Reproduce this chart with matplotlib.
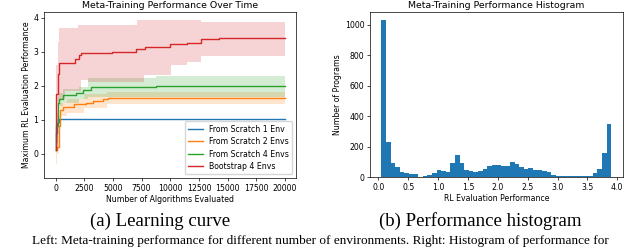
import matplotlib
matplotlib.use("Agg")
import matplotlib.pyplot as plt
import numpy as np

# ---- learning curve data (steps) ----
labels = ["From Scratch 1 Env", "From Scratch 2 Envs", "From Scratch 4 Envs", "Bootstrap 4 Envs"]
colors = ["tab:blue", "tab:orange", "tab:green", "tab:red"]

blue_x = [0, 30, 100, 200, 320, 20000]
blue_y = [0.12, 0.6, 0.9, 0.94, 1.01, 1.01]
orange_x = [0, 90, 260, 380, 610, 1620, 2640, 3220, 4090, 4530, 20000]
orange_y = [0.1, 0.2, 0.8, 1.28, 1.38, 1.45, 1.5, 1.56, 1.6, 1.64, 1.64]
green_x = [0, 60, 180, 300, 610, 1770, 2350, 3080, 8760, 20000]
green_y = [0.1, 0.8, 1.48, 1.6, 1.72, 1.8, 1.87, 1.97, 2.0, 2.0]
red_x = [0, 30, 180, 320, 1650, 2000, 2240, 4900, 7000, 7800, 10000, 11500, 12670, 14260, 20000]
red_y = [0.12, 1.77, 2.36, 2.68, 2.79, 2.9, 2.97, 3.0, 3.1, 3.13, 3.22, 3.27, 3.37, 3.4, 3.4]

# shaded bands
blue_bx = [0, 30, 320, 20000]
blue_lo = [-0.5, 0.5, 0.98, 0.98]
blue_hi = [0.6, 1.0, 1.03, 1.03]
orange_bx = [0, 90, 260, 380, 1000, 2500, 4500, 20000]
orange_lo = [-0.3, 0.0, 0.5, 1.1, 1.2, 1.35, 1.47, 1.47]
orange_hi = [0.5, 0.5, 1.1, 1.5, 1.6, 1.75, 1.83, 1.83]
green_bx = [0, 60, 180, 300, 610, 2000, 2800, 8760, 20000]
green_lo = [-0.3, 0.3, 1.2, 1.4, 1.5, 1.6, 1.67, 1.67, 1.67]
green_hi = [0.5, 1.2, 1.7, 1.8, 1.9, 1.96, 2.24, 2.3, 2.3]
red_bx = [0, 30, 180, 320, 800, 1940, 2200, 2800, 7100, 7740, 10060, 11500, 12670, 20000]
red_lo = [-0.5, 0.3, 1.0, 1.6, 1.85, 1.85, 2.16, 2.12, 2.12, 2.31, 2.6, 2.69, 2.88, 2.88]
red_hi = [0.8, 2.6, 3.3, 3.7, 3.7, 3.78, 3.78, 3.78, 3.95, 3.95, 3.95, 3.95, 3.88, 3.88]

# ---- histogram data ----
hist_edges = np.linspace(0.05, 3.9, 51)
hist_counts = [1030, 232, 95, 65, 30, 28, 18, 22, 3, 5,
               15, 25, 48, 40, 30, 90, 148, 90, 45, 42,
               35, 42, 55, 70, 82, 78, 75, 75, 100, 88,
               65, 50, 58, 45, 45, 38, 33, 15, 10, 10,
               10, 8, 5, 8, 5, 8, 25, 50, 160, 350]

s = 0.56  # text scale of the original default-sized figure
plt.rcParams.update({
    "font.size": 10 * s,
    "axes.titlesize": 12 * s,
    "axes.labelsize": 10 * s,
    "xtick.labelsize": 10 * s,
    "ytick.labelsize": 10 * s,
    "legend.fontsize": 10 * s,
    "axes.linewidth": 0.5,
    "xtick.major.width": 0.5,
    "ytick.major.width": 0.5,
    "xtick.major.size": 2,
    "ytick.major.size": 2,
    "xtick.major.pad": 2,
    "ytick.major.pad": 2,
    "axes.titlepad": 3,
    "axes.labelpad": 2,
})

fig = plt.figure(figsize=(6.4, 2.48), dpi=100)
ax1 = fig.add_axes([0.069, 0.282, 0.394, 0.669])
ax2 = fig.add_axes([0.578, 0.286, 0.395, 0.665])

lines = [(blue_x, blue_y), (orange_x, orange_y), (green_x, green_y), (red_x, red_y)]
bands = [(blue_bx, blue_lo, blue_hi), (orange_bx, orange_lo, orange_hi),
         (green_bx, green_lo, green_hi), (red_bx, red_lo, red_hi)]
for (lx, ly), (bx, lo, hi), lab, c in zip(lines, bands, labels, colors):
    ax1.plot(lx, ly, drawstyle="steps-post", color=c, lw=1.0, label=lab)
    ax1.fill_between(bx, lo, hi, step="post", color=c, alpha=0.2, lw=0)

ax1.set_xticks(np.arange(0, 20001, 2500))
ax1.set_yticks([0, 1, 2, 3, 4])
ax1.set_title("Meta-Training Performance Over Time")
ax1.set_xlabel("Number of Algorithms Evaluated")
ax1.set_ylabel("Maximum RL Evaluation Performance")
ax1.legend(loc="lower right", handlelength=2.0, borderpad=0.4, labelspacing=0.45)

ax2.hist((hist_edges[:-1] + hist_edges[1:]) / 2, bins=hist_edges, weights=hist_counts, color="tab:blue")
ax2.set_xticks(np.arange(0, 4.01, 0.5))
ax2.set_title("Meta-Training Performance Histogram")
ax2.set_xlabel("RL Evaluation Performance")
ax2.set_ylabel("Number of Programs")

# captions below the panels
fig.text(160 / 640, 1 - 221 / 248, "(a) Learning curve", ha="center", va="center",
         family="Liberation Serif", fontsize=13.5)
fig.text(480 / 640, 1 - 221 / 248, "(b) Performance histogram", ha="center", va="center",
         family="Liberation Serif", fontsize=13.5)
fig.text(0.5, 1 / 248,
         "Left: Meta-training performance for different number of environments. Right: Histogram of performance for",
         ha="center", va="bottom", family="Liberation Serif", fontsize=9.5)

fig.savefig("out.png", dpi=100)
